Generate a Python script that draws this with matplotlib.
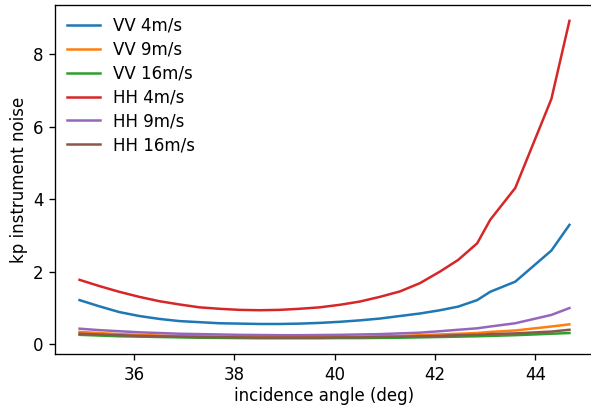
import matplotlib
matplotlib.use("Agg")
import matplotlib.pyplot as plt

angle = [34.91, 35.3, 35.7, 36.1, 36.5, 36.9, 37.3, 37.7, 38.1, 38.5, 38.9, 39.3, 39.7,
         40.1, 40.5, 40.9, 41.3, 41.7, 42.1, 42.46, 42.84, 43.10, 43.60, 44.32, 44.68]

vv_4 = [1.21, 1.04, 0.88, 0.77, 0.69, 0.63, 0.60, 0.57, 0.56, 0.55, 0.55, 0.56, 0.58,
        0.61, 0.65, 0.70, 0.77, 0.84, 0.93, 1.03, 1.21, 1.44, 1.72, 2.58, 3.29]
vv_9 = [0.33, 0.30, 0.27, 0.25, 0.23, 0.22, 0.21, 0.20, 0.195, 0.19, 0.19, 0.19, 0.19,
        0.195, 0.20, 0.21, 0.22, 0.24, 0.26, 0.28, 0.30, 0.33, 0.37, 0.48, 0.54]
vv_16 = [0.25, 0.23, 0.21, 0.20, 0.19, 0.18, 0.17, 0.165, 0.16, 0.155, 0.155, 0.155, 0.155,
         0.16, 0.16, 0.165, 0.17, 0.18, 0.19, 0.20, 0.21, 0.22, 0.24, 0.28, 0.30]
hh_4 = [1.77, 1.60, 1.44, 1.30, 1.18, 1.09, 1.01, 0.97, 0.94, 0.93, 0.94, 0.97, 1.01,
        1.08, 1.17, 1.30, 1.45, 1.68, 2.00, 2.32, 2.78, 3.43, 4.31, 6.77, 8.93]
hh_9 = [0.42, 0.38, 0.35, 0.32, 0.30, 0.28, 0.27, 0.26, 0.25, 0.245, 0.24, 0.24, 0.245,
        0.25, 0.26, 0.27, 0.29, 0.31, 0.35, 0.39, 0.43, 0.48, 0.57, 0.80, 0.99]
hh_16 = [0.28, 0.26, 0.24, 0.22, 0.21, 0.20, 0.19, 0.185, 0.18, 0.175, 0.175, 0.175, 0.175,
         0.18, 0.18, 0.19, 0.20, 0.21, 0.22, 0.24, 0.25, 0.27, 0.29, 0.34, 0.39]

labels = ["VV 4m/s", "VV 9m/s", "VV 16m/s", "HH 4m/s", "HH 9m/s", "HH 16m/s"]
series = [vv_4, vv_9, vv_16, hh_4, hh_9, hh_16]

dpi = 120
fig = plt.figure(figsize=(591 / dpi, 408 / dpi), dpi=dpi)
ax = fig.add_axes([55 / 591, 54 / 408, 539 / 591, 348.7 / 408])
for s, lab in zip(series, labels):
    ax.plot(angle, s, label=lab)
ax.set_xlim(34.42, 45.17)
ax.set_ylim(-0.28, 9.36)
ax.spines["right"].set_visible(False)
ax.set_xlabel("incidence angle (deg)", labelpad=2)
ax.set_ylabel("kp instrument noise", labelpad=3)
ax.set_xticks([36, 38, 40, 42, 44])
ax.set_yticks([0, 2, 4, 6, 8])
ax.legend(frameon=False, loc="upper left", labelspacing=0.35, borderaxespad=0.3)
fig.savefig("out.png", dpi=dpi)
